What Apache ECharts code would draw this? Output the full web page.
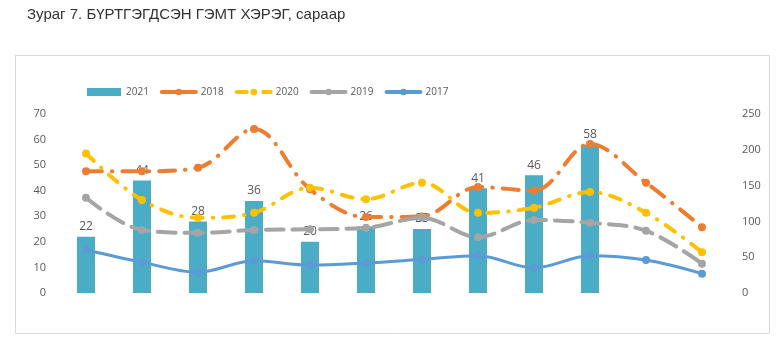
<!DOCTYPE html>
<html>
<head>
<meta charset="utf-8">
<script src="https://cdn.jsdelivr.net/npm/echarts@6/dist/echarts.min.js"></script>
<style>
  html, body { margin: 0; padding: 0; background: #fff; }
  #chart { width: 780px; height: 340px; }
</style>
</head>
<body>
<div id="chart"></div>
<script>
// Months 1..12 (x axis labels are not shown)
const months = ['1', '2', '3', '4', '5', '6', '7', '8', '9', '10', '11', '12'];

// Bars, left axis
const y2021 = [22, 44, 28, 36, 20, 26, 25, 41, 46, 58, null, null];

// Lines, right axis
const y2018 = [170, 170, 175, 229, 145, 106, 107, 148, 143, 208, 154, 92];
const y2020 = [195, 130, 105, 112, 147, 131, 154, 112, 119, 141, 112, 57];
const y2019 = [133, 88, 84, 88, 89, 91, 105, 78, 102, 98, 87, 41];
const y2017 = [60, 43, 29, 45, 39, 42, 47, 52, 35, 52, 46, 27];

const leftTicks = { min: 0, max: 70, interval: 10 };
const rightTicks = { min: 0, max: 250, interval: 50 };

const font = '"Open Sans", "Liberation Sans", sans-serif';
const labelColor = '#595959';

function lineSeries(name, data, color, dash, width) {
  return {
    name: name,
    type: 'line',
    yAxisIndex: 1,
    data: data,
    smooth: 0.35,
    symbol: 'circle',
    symbolSize: 8,
    showSymbol: true,
    itemStyle: { color: color },
    lineStyle: { color: color, width: width, type: dash, cap: 'round', join: 'round' },
    z: 3
  };
}

function legendLine(name, color, dash) {
  return { name: name, lineStyle: { color: color, width: 4, type: dash, cap: 'round' } };
}

const chart = echarts.init(document.getElementById('chart'), null, { renderer: 'canvas' });

chart.setOption({
  animation: false,
  backgroundColor: '#ffffff',
  title: {
    text: 'Зураг 7. БҮРТГЭГДСЭН ГЭМТ ХЭРЭГ, сараар',
    left: 22,
    top: 2,
    textStyle: { fontFamily: '"Liberation Sans", Arial, sans-serif', fontSize: 15, fontWeight: 'normal', color: '#333333' }
  },
  graphic: [{
    type: 'rect',
    shape: { x: 15.5, y: 55.5, width: 754, height: 278 },
    style: { fill: 'none', stroke: '#d9d9d9', lineWidth: 1 },
    z: -1,
    silent: true
  }],
  legend: {
    left: 87,
    top: 87,
    padding: 0,
    itemWidth: 34,
    itemHeight: 8,
    itemGap: 11,
    textStyle: { fontFamily: font, fontSize: 10, color: labelColor },
    data: [
      { name: '2021', icon: 'rect', itemStyle: { color: '#4bacc6' } },
      legendLine('2018', '#ed7d31', 'solid'),
      legendLine('2020', '#ffc000', [10, 8, 0.5, 8]),
      legendLine('2019', '#a5a5a5', 'solid'),
      legendLine('2017', '#5b9bd5', 'solid')
    ]
  },
  grid: { left: 58, right: 50, top: 114, bottom: 47, containLabel: false },
  xAxis: {
    type: 'category',
    data: months,
    boundaryGap: true,
    axisLine: { show: false },
    axisTick: { show: false },
    axisLabel: { show: false },
    splitLine: { show: false }
  },
  yAxis: [{
    type: 'value',
    min: leftTicks.min, max: leftTicks.max, interval: leftTicks.interval,
    axisLine: { show: false },
    axisTick: { show: false },
    splitLine: { show: false },
    axisLabel: { margin: 12, fontFamily: font, fontSize: 11, color: labelColor }
  }, {
    type: 'value',
    min: rightTicks.min, max: rightTicks.max, interval: rightTicks.interval,
    axisLine: { show: false },
    axisTick: { show: false },
    splitLine: { show: false },
    axisLabel: { margin: 12, fontFamily: font, fontSize: 11, color: labelColor }
  }],
  series: [{
    name: '2021',
    type: 'bar',
    data: y2021,
    barWidth: 18,
    itemStyle: { color: '#4bacc6' },
    label: { show: true, position: 'top', distance: 4, fontFamily: font, fontSize: 12, color: labelColor },
    z: 2
  },
    lineSeries('2018', y2018, '#ed7d31', [16, 10, 0.5, 10], 4),
    lineSeries('2020', y2020, '#ffc000', [11, 10, 0.5, 10], 4),
    lineSeries('2019', y2019, '#a5a5a5', [18, 9], 4),
    lineSeries('2017', y2017, '#5b9bd5', 'solid', 3)
  ]
});
</script>
</body>
</html>
